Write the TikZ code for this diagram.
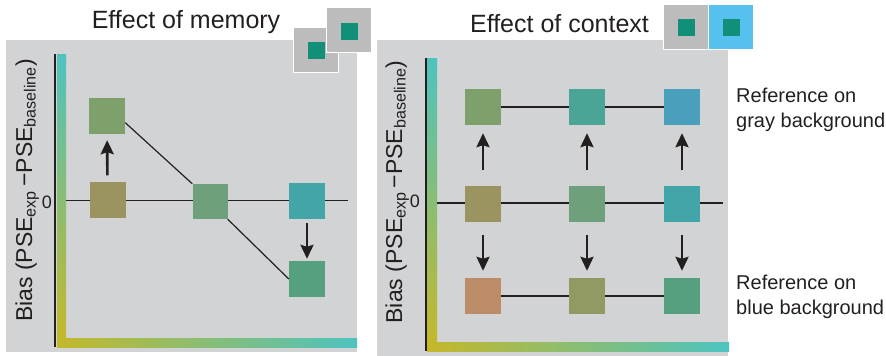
\documentclass[tikz,border=0pt]{standalone}
\usepackage{fontspec}
\setmainfont{Liberation Sans}
\usetikzlibrary{arrows.meta}

\definecolor{panelgray}{HTML}{D1D3D4}
\definecolor{icongray}{HTML}{BCBCBC}
\definecolor{iconblue}{HTML}{56C1EE}
\definecolor{target}{HTML}{118F79}
\definecolor{barteal}{HTML}{4DC3C0}
\definecolor{bargreen}{HTML}{8DBD7E}
\definecolor{baryellow}{HTML}{C4B82A}
\definecolor{inkgray}{HTML}{231F20}
\definecolor{cGreen}{HTML}{7EA06B}
\definecolor{cOlive}{HTML}{9C9460}
\definecolor{cSage}{HTML}{6EA07C}
\definecolor{cTeal}{HTML}{42A6A8}
\definecolor{cJade}{HTML}{55A07F}
\definecolor{cAqua}{HTML}{4AA597}
\definecolor{cSky}{HTML}{4A9FBC}
\definecolor{cRust}{HTML}{BC8C68}
\definecolor{cMoss}{HTML}{909A62}

\begin{document}
\begin{tikzpicture}[
    x=1pt, y=-1pt,
    patch/.style={rectangle, inner sep=0pt, minimum size=36pt},
    icon/.style={rectangle, inner sep=0pt, minimum size=45pt, draw=white, line width=1pt},
    swatch/.style={rectangle, inner sep=0pt, minimum size=17pt, fill=target},
    axis/.style={draw=inkgray, line width=2pt},
    zero/.style={draw=inkgray, line width=1.5pt},
    link/.style={draw=inkgray, line width=1.2pt},
    move/.style={draw=inkgray, line width=2.6pt, -{Stealth[length=14pt,width=13pt,inset=2pt]}},
    heading/.style={anchor=base, inner sep=0pt, text=inkgray, font=\fontsize{25}{30}\selectfont},
    note/.style={anchor=west, align=left, inner sep=0pt, text=inkgray, font=\fontsize{20}{25}\selectfont},
    tick label/.style={anchor=base, inner sep=0pt, text=inkgray, font=\fontsize{18}{22}\selectfont},
    bias/.style={rotate=90, anchor=base, inner sep=0pt, text=inkgray, font=\fontsize{23}{27}\selectfont}
]
    \useasboundingbox (0,0) rectangle (886,356);

    % Panels
    \fill [panelgray] (6,40) rectangle (357,352);
    \fill [panelgray] (377,40) rectangle (728,356);

    % Axes with colour bars
    \shade [top color=barteal, middle color=bargreen, bottom color=baryellow] (57,54) rectangle (66,338);
    \shade [left color=baryellow, right color=barteal] (57,338) rectangle (357,347);
    \path [axis] (55,54) -- (55,347);
    \shade [top color=barteal, middle color=bargreen, bottom color=baryellow] (427,58) rectangle (437,342);
    \shade [left color=baryellow, right color=barteal] (427,342) rectangle (729,351);
    \path [axis] (426,58) -- (426,351);

    % Zero lines
    \coordinate (mem zero start) at (66,200.5);
    \coordinate (mem zero end) at (348,200.5);
    \coordinate (ctx zero start) at (437,203);
    \coordinate (ctx zero end) at (723,203);
    \path [zero] (mem zero start) -- (mem zero end);
    \path [zero] (ctx zero start) -- (ctx zero end);

    % Headings and labels
    \node [heading] (mem title) at (186,28) {Effect of memory};
    \node [heading] (ctx title) at (559.5,32) {Effect of context};
    \node [tick label] (mem tick) at (47,208) {0};
    \node [tick label] (ctx tick) at (415,207.5) {0};
    \node [bias] (mem bias) at (32,190.5) {Bias (PSE\textsubscript{exp}\,−PSE\textsubscript{baseline})};
    \node [bias] (ctx bias) at (402,192) {Bias (PSE\textsubscript{exp}\,−PSE\textsubscript{baseline})};
    \node [note] (gray note) at (736,110.3) {Reference on\\gray background};
    \node [note] (blue note) at (736,297.3) {Reference on\\blue background};

    % Icons
    \node [icon, fill=icongray] (mem icon a) at (315.5,50) {};
    \node [swatch] (mem swatch a) at (316,50.5) {};
    \node [icon, fill=icongray] (mem icon b) at (348.5,30) {};
    \node [swatch] (mem swatch b) at (349,31.5) {};
    \node [icon, fill=icongray] (ctx icon a) at (685.5,26.5) {};
    \node [swatch] (ctx swatch a) at (686.5,27) {};
    \node [icon, fill=iconblue] (ctx icon b) at (730.5,26.5) {};
    \node [swatch] (ctx swatch b) at (731.5,27) {};

    % Memory patches
    \node [patch, fill=cGreen] (prior) at (107,116) {};
    \node [patch, fill=cOlive] (first) at (107.5,199.5) {};
    \node [patch, fill=cSage, minimum size=35pt] (middle) at (210,201.5) {};
    \node [patch, fill=cTeal] (last) at (307,201) {};
    \node [patch, fill=cJade] (shifted) at (307,279) {};

    % Context patches
    \node [patch, fill=cGreen] (gray one) at (483,107) {};
    \node [patch, fill=cAqua] (gray two) at (587,107) {};
    \node [patch, fill=cSky] (gray three) at (682,107) {};
    \node [patch, fill=cOlive] (base one) at (483,203.5) {};
    \node [patch, fill=cSage] (base two) at (587,203.5) {};
    \node [patch, fill=cTeal] (base three) at (682,203.5) {};
    \node [patch, fill=cRust] (blue one) at (483,296) {};
    \node [patch, fill=cMoss] (blue two) at (587,296) {};
    \node [patch, fill=cJade] (blue three) at (682,296) {};

    % Draw edges
    \path [link] (prior.-20) -- (middle.north west);
    \path [link] (middle.south east) -- (shifted.west);
    \path [move, shorten <=6pt, shorten >=6pt] (first) -- (prior);
    \path [move, shorten <=4pt, shorten >=2pt] (last) -- (shifted);
    \path [link] (gray one) -- (gray two);
    \path [link] (gray two) -- (gray three);
    \path [link] (blue one) -- (blue two);
    \path [link] (blue two) -- (blue three);
    \path [move, shorten <=15pt, shorten >=8pt] (base one) -- (gray one);
    \path [move, shorten <=15pt, shorten >=8pt] (base two) -- (gray two);
    \path [move, shorten <=15pt, shorten >=8pt] (base three) -- (gray three);
    \path [move, shorten <=13pt, shorten >=7pt] (base one) -- (blue one);
    \path [move, shorten <=13pt, shorten >=7pt] (base two) -- (blue two);
    \path [move, shorten <=13pt, shorten >=7pt] (base three) -- (blue three);
\end{tikzpicture}
\end{document}
